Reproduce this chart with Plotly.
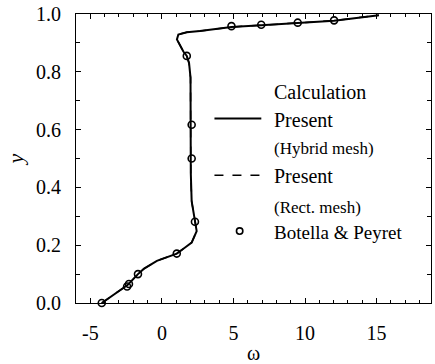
import plotly.graph_objects as go

# Calculation curve (present, hybrid mesh)
omega_hybrid = [-4.2, -3.13, -2.4, -1.67, -1.27, -0.35, 0.5, 1.04, 1.62, 2.08, 2.43, 2.31, 2.2, 2.08,
                2.02, 2.03, 2.04, 2.0, 1.9, 1.74, 1.5, 1.27, 1.05, 1.15, 1.74, 2.66, 4.0, 4.86,
                6.94, 9.49, 12.03, 15.16]
y_hybrid = [0.0, 0.038, 0.062, 0.10, 0.118, 0.146, 0.16, 0.171, 0.192, 0.209, 0.249, 0.281, 0.307, 0.352,
            0.45, 0.6, 0.7, 0.78, 0.83, 0.855, 0.87, 0.889, 0.912, 0.929, 0.937, 0.941, 0.95, 0.955,
            0.961, 0.968, 0.977, 0.996]

# Present (rect. mesh) - overlaps the hybrid curve
omega_rect = list(omega_hybrid)
y_rect = list(y_hybrid)

# Botella & Peyret reference points
omega_bp = [-4.2, -2.43, -2.3, -1.67, 1.04, 2.31, 2.08, 2.08, 1.74, 4.86, 6.94, 9.49, 12.03, 14.7]
y_bp = [0.0, 0.057, 0.066, 0.10, 0.171, 0.281, 0.50, 0.617, 0.855, 0.958, 0.963, 0.97, 0.978, 1.003]

FONT = "Liberation Serif"

fig = go.Figure()
fig.add_trace(go.Scatter(x=omega_rect, y=y_rect, mode="lines",
                         line=dict(color="black", width=1.5, dash="dash"), showlegend=False))
fig.add_trace(go.Scatter(x=omega_hybrid, y=y_hybrid, mode="lines",
                         line=dict(color="black", width=2), showlegend=False))
fig.add_trace(go.Scatter(x=omega_bp, y=y_bp, mode="markers",
                         marker=dict(symbol="circle-open", size=7, color="black", line=dict(width=1.6)),
                         showlegend=False, cliponaxis=False))

axis_common = dict(showgrid=False, zeroline=False, showline=True, linecolor="black", linewidth=1.2,
                   mirror="ticks", ticks="inside", ticklen=5, tickwidth=1, tickcolor="black",
                   tickfont=dict(family=FONT, size=20, color="black"))

fig.update_xaxes(range=[-6, 18.8], tickvals=[-5, 0, 5, 10, 15], ticktext=["-5", "0", "5", "10", "15"],
                 minor=dict(dtick=1, tick0=0, ticks="inside", ticklen=3, tickcolor="black"),
                 ticklabelstandoff=12,
                 title=dict(text="ω", font=dict(family=FONT, size=20, color="black"), standoff=2),
                 **axis_common)
fig.update_yaxes(range=[0, 1.0], tickvals=[0, 0.2, 0.4, 0.6, 0.8, 1.0],
                 ticktext=["0.0", "0.2", "0.4", "0.6", "0.8", "1.0"],
                 minor=dict(dtick=0.1, tick0=0, ticks="inside", ticklen=4, tickcolor="black"),
                 ticklabelstandoff=10,
                 title=dict(text="<i>y</i>", font=dict(family=FONT, size=22, color="black"), standoff=6),
                 **axis_common)

# Legend drawn with annotations / shapes
lx = 0.553
ann = [
    ("Calculation", 0.729, 20),
    ("Present", 0.634, 20),
    ("(Hybrid mesh)", 0.534, 17),
    ("Present", 0.438, 20),
    ("(Rect. mesh)", 0.329, 17),
    ("Botella &amp; Peyret", 0.245, 19),
]
for text, yy, fs in ann:
    fig.add_annotation(x=lx, y=yy, xref="paper", yref="paper", text=text, showarrow=False,
                       xanchor="left", yanchor="middle", font=dict(family=FONT, size=fs, color="black"))
fig.add_shape(type="line", xref="paper", yref="paper", x0=0.39, x1=0.522, y0=0.638, y1=0.638,
              line=dict(color="black", width=2))
fig.add_shape(type="line", xref="paper", yref="paper", x0=0.39, x1=0.522, y0=0.442, y1=0.442,
              line=dict(color="black", width=1.5, dash="dash"))
fig.add_shape(type="circle", xref="paper", yref="paper", x0=0.452, x1=0.470, y0=0.238, y1=0.260,
              line=dict(color="black", width=1.6))

fig.update_layout(width=435, height=364, margin=dict(l=76, r=3, t=11, b=61),
                  plot_bgcolor="white", paper_bgcolor="white", showlegend=False)

fig.write_html("out.html")
